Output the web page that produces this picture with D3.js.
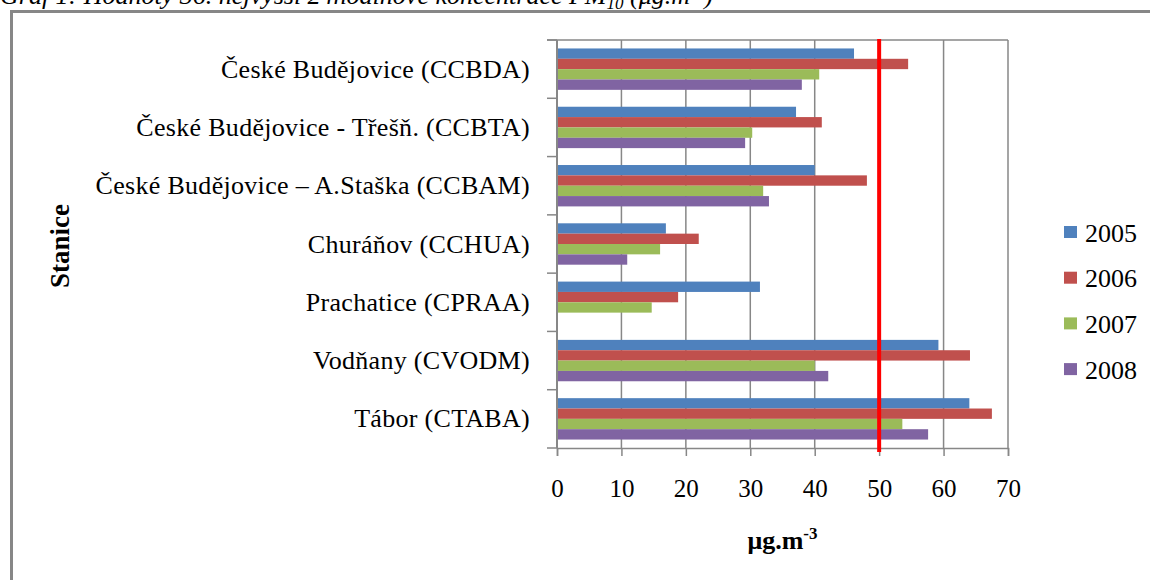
<!DOCTYPE html>
<html>
<head>
<meta charset="utf-8">
<script src="https://cdn.jsdelivr.net/npm/d3@7"></script>
<style>
  body { margin: 0; background: #fff; }
  text { font-family: "Liberation Serif", "Times New Roman", serif; }
</style>
</head>
<body>
<svg id="chart"></svg>
<script>
const stations = [
    'České Budějovice (CCBDA)',
    'České Budějovice - Třešň. (CCBTA)',
    'České Budějovice – A.Staška (CCBAM)',
    'Churáňov (CCHUA)',
    'Prachatice (CPRAA)',
    'Vodňany (CVODM)',
    'Tábor (CTABA)'
];
const years = ['2005', '2006', '2007', '2008'];
const values2005 = [46.1, 37.1, 40.0, 16.9, 31.5, 59.2, 64.0];
const values2006 = [54.5, 41.1, 48.1, 22.0, 18.8, 64.1, 67.5];
const values2007 = [40.7, 30.3, 32.0, 16.0, 14.7, 40.0, 53.6];
const values2008 = [38.0, 29.2, 32.9, 10.9, null, 42.1, 57.6];
const xticks = [0, 10, 20, 30, 40, 50, 60, 70];
const limit = 50;
const colors = ['#4F81BD', '#C0504D', '#9BBB59', '#8064A2'];

const series = [values2005, values2006, values2007, values2008];
const data = stations.map((s, i) => ({
    station: s,
    values: years.map((y, j) => ({ year: y, value: series[j][i] }))
}));

class BarPlot {

    constructor( config, data ) {
        this.config = {
            parent: config.parent,
            width: config.width || 1150,
            height: config.height || 580,
            margin: config.margin || {top:40, right:142, bottom:132, left:557}
        }
        this.data = data;
        this.init();
    }

    init() {
        let self = this;

        self.svg = d3.select(self.config.parent)
            .attr('width', self.config.width)
            .attr('height', self.config.height);

        // outer frame
        self.svg.append('rect')
            .attr('x', 11.5).attr('y', 11.5)
            .attr('width', 1200).attr('height', 700)
            .attr('fill', 'none')
            .attr('stroke', '#878787')
            .attr('stroke-width', 3);

        // caption above the frame (cut off at the top, as in the source)
        const title = self.svg.append('text')
            .attr('x', 0)
            .attr('y', 4)
            .style('font-size', '26px')
            .style('font-style', 'italic');
        title.append('tspan').text('Graf 1: Hodnoty 36. nejvyšší 24hodinové koncentrace PM');
        title.append('tspan').attr('dy', 5).style('font-size', '17px').text('10');
        title.append('tspan').attr('dy', -5).text(' (μg.m');
        title.append('tspan').attr('dy', -9).style('font-size', '17px').text('-3');
        title.append('tspan').attr('dy', 9).text(')');

        self.chart = self.svg.append('g')
            .attr('transform', `translate(${self.config.margin.left}, ${self.config.margin.top})`);

        self.inner_width = self.config.width - self.config.margin.left - self.config.margin.right;
        self.inner_height = self.config.height - self.config.margin.top - self.config.margin.bottom;

        self.xscale = d3.scaleLinear()
            .domain([0, 70])
            .range([0, self.inner_width]);

        self.yscale = d3.scaleBand()
            .domain(stations)
            .range([0, self.inner_height])
            .paddingInner(0.29)
            .paddingOuter(0.145);

        self.yinner = d3.scaleBand()
            .domain(years)
            .range([0, self.yscale.bandwidth()]);

        self.cscale = d3.scaleOrdinal()
            .domain(years)
            .range(colors);

        self.xaxis = d3.axisBottom(self.xscale)
            .tickValues(xticks)
            .tickSize(8)
            .tickPadding(23);

        self.grid_group = self.chart.append('g');
        self.bar_group = self.chart.append('g');
        self.xaxis_group = self.chart.append('g')
            .attr('transform', `translate(0, ${self.inner_height})`);
        self.yaxis_group = self.chart.append('g');
        self.limit_group = self.chart.append('g');

        // y axis title
        self.svg.append('text')
            .style('font-size', '27px')
            .style('font-weight', 'bold')
            .attr('transform', `translate(60, 246) rotate(-90)`)
            .attr('text-anchor', 'middle')
            .attr('dominant-baseline', 'central')
            .text('Stanice');

        // x axis title
        const xlabel = self.svg.append('text')
            .style('font-size', '26px')
            .style('font-weight', 'bold')
            .attr('x', self.config.margin.left + self.inner_width / 2)
            .attr('y', 549)
            .attr('text-anchor', 'middle');
        xlabel.append('tspan').text('μg.m');
        xlabel.append('tspan').attr('dy', -10).style('font-size', '17px').text('-3');

        // legend
        self.legend = self.svg.append('g')
            .attr('transform', 'translate(1064, 232)');
    }

    update() {
        let self = this;
        self.render();
    }

    render() {
        let self = this;

        self.grid_group.selectAll('line')
            .data(xticks)
            .join('line')
            .attr('x1', d => self.xscale(d))
            .attr('x2', d => self.xscale(d))
            .attr('y1', 0)
            .attr('y2', self.inner_height)
            .attr('stroke', '#878787')
            .attr('stroke-width', 1.5);

        self.grid_group.append('line')
            .attr('x1', -10).attr('x2', self.inner_width)
            .attr('y1', 0).attr('y2', 0)
            .attr('stroke', '#878787')
            .attr('stroke-width', 1.5);

        self.bar_group.selectAll('g')
            .data(self.data)
            .join('g')
            .attr('transform', d => `translate(0, ${self.yscale(d.station)})`)
            .selectAll('rect')
            .data(d => d.values.filter(v => v.value != null))
            .join('rect')
            .attr('x', 1)
            .attr('y', d => self.yinner(d.year))
            .attr('width', d => self.xscale(d.value) - 1)
            .attr('height', self.yinner.bandwidth())
            .attr('fill', d => self.cscale(d.year));

        // category labels and tick marks between groups
        const step = self.yscale.step();
        const bounds = d3.range(stations.length + 1).map(i => i * step);
        self.yaxis_group.selectAll('line.tick')
            .data(bounds)
            .join('line')
            .attr('class', 'tick')
            .attr('x1', -10).attr('x2', 0)
            .attr('y1', d => d).attr('y2', d => d)
            .attr('stroke', '#878787')
            .attr('stroke-width', 1.5);
        self.yaxis_group.append('line')
            .attr('x1', 0).attr('x2', 0)
            .attr('y1', 0).attr('y2', self.inner_height)
            .attr('stroke', '#878787')
            .attr('stroke-width', 2);
        self.yaxis_group.selectAll('text')
            .data(stations)
            .join('text')
            .attr('x', -27)
            .attr('y', d => self.yscale(d) + self.yscale.bandwidth() / 2)
            .attr('text-anchor', 'end')
            .attr('dominant-baseline', 'central')
            .style('font-size', '26px')
            .style('letter-spacing', '0.3px')
            .text(d => d);

        self.xaxis_group.call(self.xaxis);
        self.xaxis_group.select('.domain')
            .attr('stroke', '#878787')
            .attr('stroke-width', 1.5);
        self.xaxis_group.selectAll('.tick line')
            .attr('stroke', '#878787')
            .attr('stroke-width', 1.5);
        self.xaxis_group.selectAll('.tick text')
            .style('font-size', '25px')
            .style('font-family', '"Liberation Serif", serif')
            .attr('fill', '#000');

        // limit value line
        self.limit_group.append('line')
            .attr('x1', self.xscale(limit))
            .attr('x2', self.xscale(limit))
            .attr('y1', -1)
            .attr('y2', self.inner_height + 4)
            .attr('stroke', '#ff0000')
            .attr('stroke-width', 4);

        const items = self.legend.selectAll('g')
            .data(years)
            .join('g')
            .attr('transform', (d, i) => `translate(0, ${i * 45.7})`);
        items.append('rect')
            .attr('x', 0).attr('y', -6)
            .attr('width', 13).attr('height', 12)
            .attr('fill', d => self.cscale(d));
        items.append('text')
            .attr('x', 21)
            .attr('y', 1)
            .attr('dominant-baseline', 'central')
            .style('font-size', '26px')
            .text(d => d);
    }
}

const plot = new BarPlot({ parent: '#chart', width: 1150, height: 580 }, data);
plot.update();
</script>
</body>
</html>
